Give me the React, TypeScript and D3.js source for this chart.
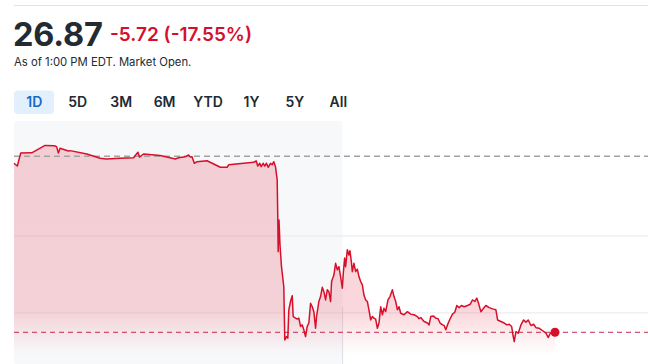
import React from "react";
import * as d3 from "d3";

// ---- data (minutes after 4:00 AM, price in USD) ----
const minutes: number[] = [
  0, 3.3, 6.7, 17.7, 31, 40.3, 42.5, 44.3, 46, 54.3, 56, 72.7, 86, 92, 106, 119.3, 123.7, 125.3, 129.3,
  146, 161, 164.3, 171, 174.3, 176, 177.7, 180, 182.7, 192.7, 206, 212.7, 214.3, 229.3, 239.3, 241.7,
  243.3, 245.3, 246.7, 248.7, 250.3, 252, 253.7, 256, 257.7, 259.3, 261, 262.7, 263.3, 263.7, 264.5,
  265.5, 267, 269.3, 270.3, 272, 273.3, 274.3, 276, 277.7, 278.7, 281, 282.7, 284.3, 286, 287.7, 289.3,
  291, 292.7, 294.3, 296, 297.7, 299.3, 301, 302, 304.3, 306, 307.7, 309.3, 311, 312.7, 314.3, 316, 317,
  319.3, 321, 322.7, 324.3, 326, 327.7, 328.7, 330, 331, 332.7, 334.3, 335.3, 336.7, 337.7, 339.3, 341,
  342.7, 344.3, 346, 347.7, 349.3, 351, 352.7, 354.3, 356, 357.7, 359.3, 361, 362.7, 364.3, 366, 367.7,
  369.3, 371, 373.3, 375.3, 377.7, 379.3, 381, 382.7, 384.3, 386, 389.3, 392.7, 396, 399.3, 402.7, 404.3,
  406, 409.3, 412.7, 414.3, 416, 418.7, 421, 423.3, 425.3, 427.7, 429.3, 431, 432.7, 435.3, 437.7, 440,
  442, 444.3, 446.7, 449.3, 452.7, 455.3, 457.7, 460, 462, 463.7, 466, 468.7, 471, 474.3, 477.7, 481,
  482.7, 486, 489.3, 492, 494.3, 496.7, 498, 499.3, 501, 503.3, 506, 508.7, 511, 513.3, 516, 518.7, 521,
  524.3, 527.7, 531, 533.3, 535.3, 537.7, 540,
];
const prices: number[] = [
  32.36, 32.27, 32.69, 32.7, 32.94, 32.93, 32.9, 32.69, 32.85, 32.76, 32.77, 32.66, 32.52, 32.5, 32.52,
  32.54, 32.72, 32.56, 32.66, 32.61, 32.5, 32.54, 32.57, 32.63, 32.56, 32.57, 32.36, 32.41, 32.44, 32.23,
  32.23, 32.31, 32.36, 32.39, 32.44, 32.27, 32.36, 32.25, 32.36, 32.27, 32.36, 32.23, 32.36, 32.31, 32.41,
  32.25, 31.82, 30.58, 29.49, 30.52, 29.71, 29.0, 28.35, 26.62, 26.73, 26.68, 27.6, 27.87, 28.06, 27.38,
  27.33, 27.3, 27.33, 27.06, 27.11, 26.95, 26.73, 27.06, 27.17, 27.81, 27.7, 27.54, 27.0, 27.38, 27.87,
  28.03, 28.33, 28.19, 27.92, 28.25, 28.19, 27.87, 28.52, 28.73, 29.11, 28.9, 29.0, 28.68, 28.3, 28.79,
  29.28, 29.0, 29.55, 29.38, 29.52, 29.17, 28.84, 29.11, 28.84, 28.92, 28.68, 28.52, 28.41, 28.08, 27.92,
  27.87, 27.6, 27.27, 27.38, 27.33, 27.3, 27.0, 27.17, 27.7, 27.44, 27.65, 27.54, 27.92, 28.03, 28.25,
  28.03, 27.87, 27.6, 27.7, 27.49, 27.44, 27.54, 27.46, 27.44, 27.38, 27.31, 27.35, 27.22, 27.17, 27.11,
  27.38, 27.4, 27.33, 27.31, 27.17, 27.11, 27.09, 26.95, 27.11, 27.31, 27.46, 27.52, 27.74, 27.67, 27.74,
  27.7, 27.74, 27.78, 27.92, 27.87, 27.98, 27.81, 27.54, 27.65, 27.74, 27.67, 27.63, 27.6, 27.27, 27.22,
  27.17, 27.11, 27.13, 27.06, 26.79, 26.57, 26.89, 26.84, 27.11, 27.27, 27.2, 27.27, 27.09, 27.13, 27.02,
  27.0, 26.92, 26.84, 26.7, 26.84, 26.87, 26.87,
];
const previousClose = 32.59;
const lastPrice = 26.87;
const changeText = "-5.72 (-17.55%)";
const asOfText = "As of 1:00 PM EDT. Market Open.";
const ranges: string[] = ["1D", "5D", "3M", "6M", "YTD", "1Y", "5Y", "All"];
const gridValues: number[] = [30, 27.5];
const premarketEnd = 328; // minutes after 4:00 AM where the shaded session ends

const W = 648;
const H = 364;
const FONT = "Inter, 'Noto Sans', sans-serif";
const RED = "#d6102b";

export default function App() {
  const x = d3.scaleLinear().domain([0, 540]).range([14, 555]);
  const y = d3.scaleLinear().domain([25.84, 33.7]).range([364, 122]);
  const pts = minutes.map((m, i) => [m, prices[i]] as [number, number]);
  const line = d3
    .line<[number, number]>()
    .x((d) => x(d[0]))
    .y((d) => y(d[1]));
  const area = d3
    .area<[number, number]>()
    .x((d) => x(d[0]))
    .y0(H)
    .y1((d) => y(d[1]));
  const tabX = d3.scalePoint<string>().domain(ranges).range([34.3, 338.3]);
  const xPre = x(premarketEnd);
  const last = pts[pts.length - 1];

  return (
    <div style={{ position: "fixed", left: 0, top: 0 }}>
      <svg width={W} height={H} style={{ display: "block", fontFamily: FONT }}>
        <rect width={W} height={H} fill="#fff" />
        <line x1={14} x2={W} y1={5.5} y2={5.5} stroke="#e3e3e3" strokeWidth={1} />
        <text x={13} y={45.5} fontSize={32.5} fontWeight={700} fill="#232a31" letterSpacing={-0.2}>
          {lastPrice.toFixed(2)}
        </text>
        <text x={110} y={41} fontSize={19} fontWeight={600} fill={RED}>
          {changeText}
        </text>
        <text x={14} y={66} fontSize={11.3} fill="#232a31">
          {asOfText}
        </text>
        <rect x={14} y={90.5} width={40} height={23.5} rx={4} fill="#e2f0fd" />
        {ranges.map((r, i) => (
          <text
            key={r}
            x={tabX(r)}
            y={107.3}
            textAnchor="middle"
            fontSize={14}
            fontWeight={600}
            fill={i === 0 ? "#1669c7" : "#232a31"}
          >
            {r}
          </text>
        ))}

        <defs>
          <linearGradient id="fillGrad" gradientUnits="userSpaceOnUse" x1={0} y1={122} x2={0} y2={H}>
            <stop offset="0" stopColor="#e1142f" stopOpacity={0.19} />
            <stop offset="0.78" stopColor="#e1142f" stopOpacity={0.17} />
            <stop offset="0.96" stopColor="#e1142f" stopOpacity={0.0} />
          </linearGradient>
        </defs>

        <rect x={14} y={121} width={xPre - 14} height={H - 121} rx={3} fill="#f7f8fa" />
        {gridValues.map((g) => (
          <line key={g} x1={14} x2={W} y1={y(g)} y2={y(g)} stroke="#e9e9ec" strokeWidth={1} />
        ))}
        <line x1={xPre} x2={xPre} y1={307} y2={H} stroke="#dedfe3" strokeWidth={1} />

        <path d={area(pts) || ""} fill="url(#fillGrad)" />
        <line
          x1={14}
          x2={W}
          y1={y(previousClose)}
          y2={y(previousClose)}
          stroke="#a3a3a3"
          strokeWidth={1.4}
          strokeDasharray="6 4"
        />
        <line
          x1={14}
          x2={W}
          y1={y(lastPrice)}
          y2={y(lastPrice)}
          stroke="#c42a4f"
          strokeWidth={1}
          strokeDasharray="5 4"
        />
        <path d={line(pts) || ""} fill="none" stroke={RED} strokeWidth={1.5} strokeLinejoin="round" />
        <circle cx={x(last[0])} cy={y(last[1])} r={4.5} fill={RED} />
      </svg>
    </div>
  );
}
